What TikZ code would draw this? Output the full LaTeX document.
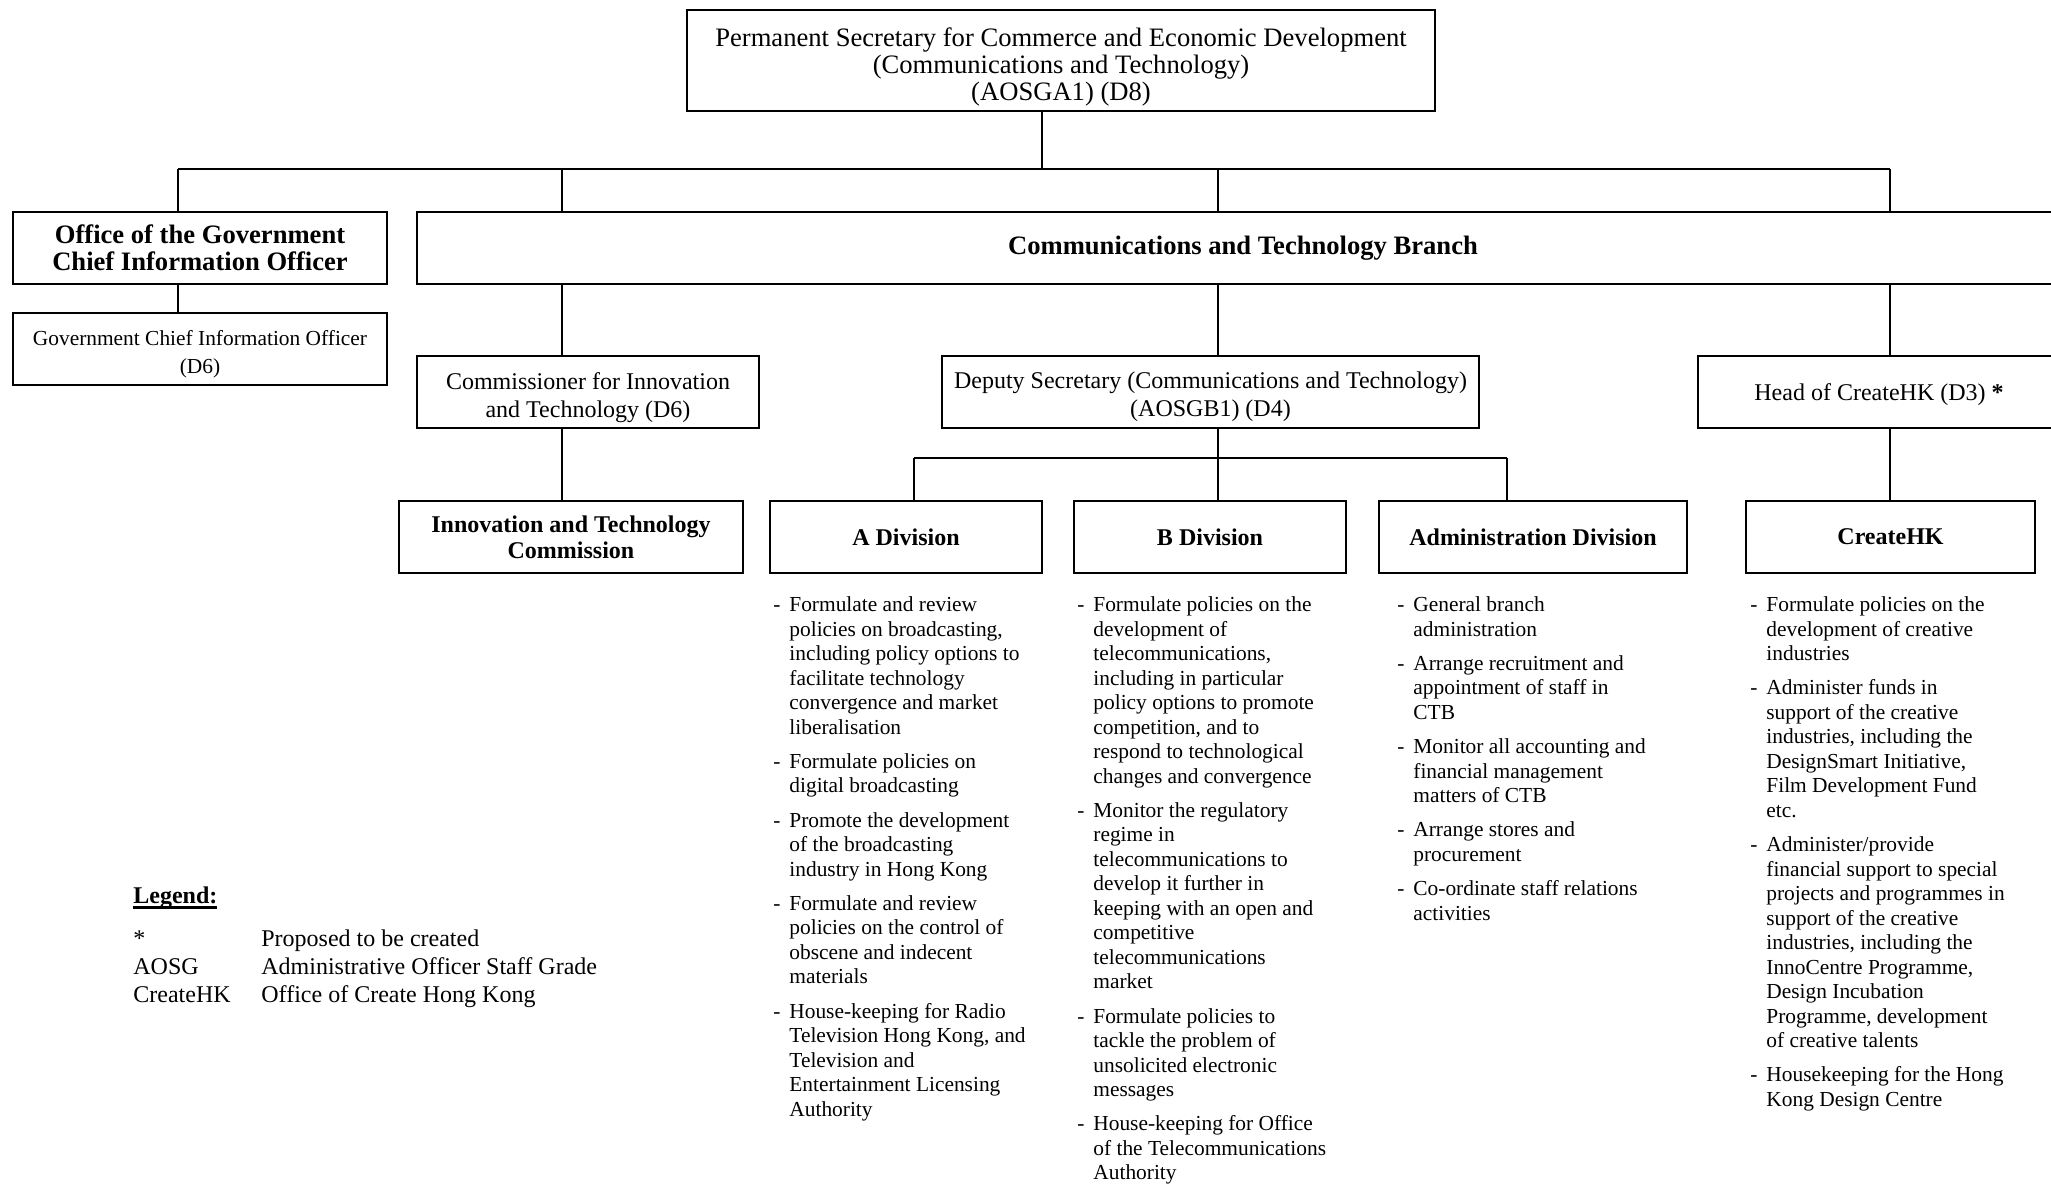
\documentclass[tikz,border=0pt]{standalone}
\usepackage{fontspec}
\setmainfont{Liberation Serif}
\usepackage{tikz}
\usetikzlibrary{positioning,calc}

% fonts
\newcommand\topfont{\fontsize{13.3}{13.4}\selectfont}
\newcommand\boxfont{\fontsize{12}{14}\selectfont}
\newcommand\titlefont{\bfseries\fontsize{13.3}{13.3}\selectfont}
\newcommand\divfont{\bfseries\fontsize{12}{13}\selectfont}
\newcommand\smallboxfont{\fontsize{10.7}{13.7}\selectfont}
\newcommand\dutyfont{\fontsize{10.7}{12.25}\selectfont}
\newcommand\legendfont{\fontsize{12}{14.1}\selectfont}
% text sits low in the boxes
\newcommand\lift[1]{\rule{0pt}{#1}}
\newcommand\ulbold[1]{\setbox0\hbox{#1}\rlap{\rule[-2.7pt]{\wd0}{1.4pt}}\box0}
\newenvironment{dutylist}{\begin{tabular}{@{}p{8pt}@{}l@{}}}{\end{tabular}}

\begin{document}
\begin{tikzpicture}[x=0.5pt, y=-0.5pt,
  box/.style={draw, line width=1pt, inner sep=0pt, align=center, minimum height=36pt},
  link/.style={line width=0.75pt},
  duties/.style={anchor=north west, inner sep=0pt, font=\dutyfont}]
  % page, 1 unit = 1 px
  \path[use as bounding box, clip] (0,0) rectangle (2051,1184);

  % top
  \node[box, minimum width=374pt, minimum height=50.5pt, font=\topfont] (ps) at (1061,60.5)
    {\lift{15.6pt}Permanent Secretary for Commerce and Economic Development\\(Communications and Technology)\\(AOSGA1) (D8)};

  % office and branch
  \node[box, minimum width=187pt, font=\titlefont] (ogcio) at (200,248) {Office of the Government\\Chief Information Officer};
  \node[box, minimum width=826pt, font=\titlefont] (ctb) at (1243,248) {Communications and Technology Branch};
  \node[box, minimum width=187pt, font=\smallboxfont] (gcio) at (200,349) {\lift{12.8pt}Government Chief Information Officer\\(D6)};

  % heads
  \node[box, minimum width=171pt, font=\boxfont] (cit) at (588,392) {\lift{13.8pt}Commissioner for Innovation\\and Technology (D6)};
  \node[box, minimum width=268.5pt, font=\boxfont] (dsec) at (1210.5,392) {\lift{13.2pt}Deputy Secretary (Communications and Technology)\\(AOSGB1) (D4)};
  \node[box, minimum width=181pt, font=\boxfont] (head) at (1879,392) {\lift{11.1pt}Head of CreateHK (D3) \textbf{*}};

  % divisions
  \node[box, minimum width=172pt, font=\divfont] (itc) at (571,537) {Innovation and Technology\\Commission};
  \node[box, minimum width=136pt, font=\divfont] (adiv) at (906,537) {A Division};
  \node[box, minimum width=136pt, font=\divfont] (bdiv) at (1210,537) {B Division};
  \node[box, minimum width=154pt, font=\divfont] (admdiv) at (1533,537) {Administration Division};
  \node[box, minimum width=144.5pt, font=\divfont] (chk) at (1890.5,537) {CreateHK};

  % upper bus
  \coordinate (k0) at (1042,169);
  \coordinate (k1) at (178,169);
  \coordinate (k2) at (562,169);
  \coordinate (k3) at (1218,169);
  \coordinate (k4) at (1890,169);
  \draw[link] (k1) -- (k4);
  \draw[link] (ps.south -| k0) -- (k0);
  \draw[link] (k1) -- (k1 |- ogcio.north);
  \foreach \k in {k2,k3,k4} \draw[link] (\k) -- (\k |- ctb.north);
  \draw[link] (ogcio.south -| k1) -- (gcio.north -| k1);
  \draw[link] (ctb.south -| k2) -- (cit.north -| k2);
  \draw[link] (ctb.south -| k3) -- (dsec.north -| k3);
  \draw[link] (ctb.south -| k4) -- (head.north -| k4);
  \draw[link] (cit.south -| k2) -- (itc.north -| k2);
  \draw[link] (head.south -| k4) -- (chk.north -| k4);

  % lower bus
  \coordinate (m1) at (914,458);
  \coordinate (m2) at (1507,458);
  \draw[link] (m1) -- (m2);
  \draw[link] (dsec.south -| k3) -- (bdiv.north -| k3);
  \draw[link] (m1) -- (m1 |- adiv.north);
  \draw[link] (m2) -- (m2 |- admdiv.north);

  % duties
  \node[duties] (aduty) at (773,594) {\begin{dutylist}
    - & Formulate and review\\
      & policies on broadcasting,\\
      & including policy options to\\
      & facilitate technology\\
      & convergence and market\\
      & liberalisation\\[4.9pt]
    - & Formulate policies on\\
      & digital broadcasting\\[4.9pt]
    - & Promote the development\\
      & of the broadcasting\\
      & industry in Hong Kong\\[4.9pt]
    - & Formulate and review\\
      & policies on the control of\\
      & obscene and indecent\\
      & materials\\[4.9pt]
    - & House-keeping for Radio\\
      & Television Hong Kong, and\\
      & Television and\\
      & Entertainment Licensing\\
      & Authority
  \end{dutylist}};
  \node[duties] (bduty) at (1077,594) {\begin{dutylist}
    - & Formulate policies on the\\
      & development of\\
      & telecommunications,\\
      & including in particular\\
      & policy options to promote\\
      & competition, and to\\
      & respond to technological\\
      & changes and convergence\\[4.9pt]
    - & Monitor the regulatory\\
      & regime in\\
      & telecommunications to\\
      & develop it further in\\
      & keeping with an open and\\
      & competitive\\
      & telecommunications\\
      & market\\[4.9pt]
    - & Formulate policies to\\
      & tackle the problem of\\
      & unsolicited electronic\\
      & messages\\[4.9pt]
    - & House-keeping for Office\\
      & of the Telecommunications\\
      & Authority
  \end{dutylist}};
  \node[duties] (admduty) at (1397,594) {\begin{dutylist}
    - & General branch\\
      & administration\\[4.9pt]
    - & Arrange recruitment and\\
      & appointment of staff in\\
      & CTB\\[4.9pt]
    - & Monitor all accounting and\\
      & financial management\\
      & matters of CTB\\[4.9pt]
    - & Arrange stores and\\
      & procurement\\[4.9pt]
    - & Co-ordinate staff relations\\
      & activities
  \end{dutylist}};
  \node[duties] (chkduty) at (1750,594) {\begin{dutylist}
    - & Formulate policies on the\\
      & development of creative\\
      & industries\\[4.9pt]
    - & Administer funds in\\
      & support of the creative\\
      & industries, including the\\
      & DesignSmart Initiative,\\
      & Film Development Fund\\
      & etc.\\[4.9pt]
    - & Administer/provide\\
      & financial support to special\\
      & projects and programmes in\\
      & support of the creative\\
      & industries, including the\\
      & InnoCentre Programme,\\
      & Design Incubation\\
      & Programme, development\\
      & of creative talents\\[4.9pt]
    - & Housekeeping for the Hong\\
      & Kong Design Centre
  \end{dutylist}};

  % legend
  \node[anchor=base west, inner sep=0pt, font=\legendfont\bfseries] (legend) at (133,903.5) {\ulbold{Legend:}};
  \node[anchor=north west, inner sep=0pt, font=\legendfont] (abbr) at (133,926) {\begin{tabular}{@{}p{64pt}@{}l@{}}
    * & Proposed to be created\\
    AOSG & Administrative Officer Staff Grade\\
    CreateHK & Office of Create Hong Kong
  \end{tabular}};
\end{tikzpicture}
\end{document}
